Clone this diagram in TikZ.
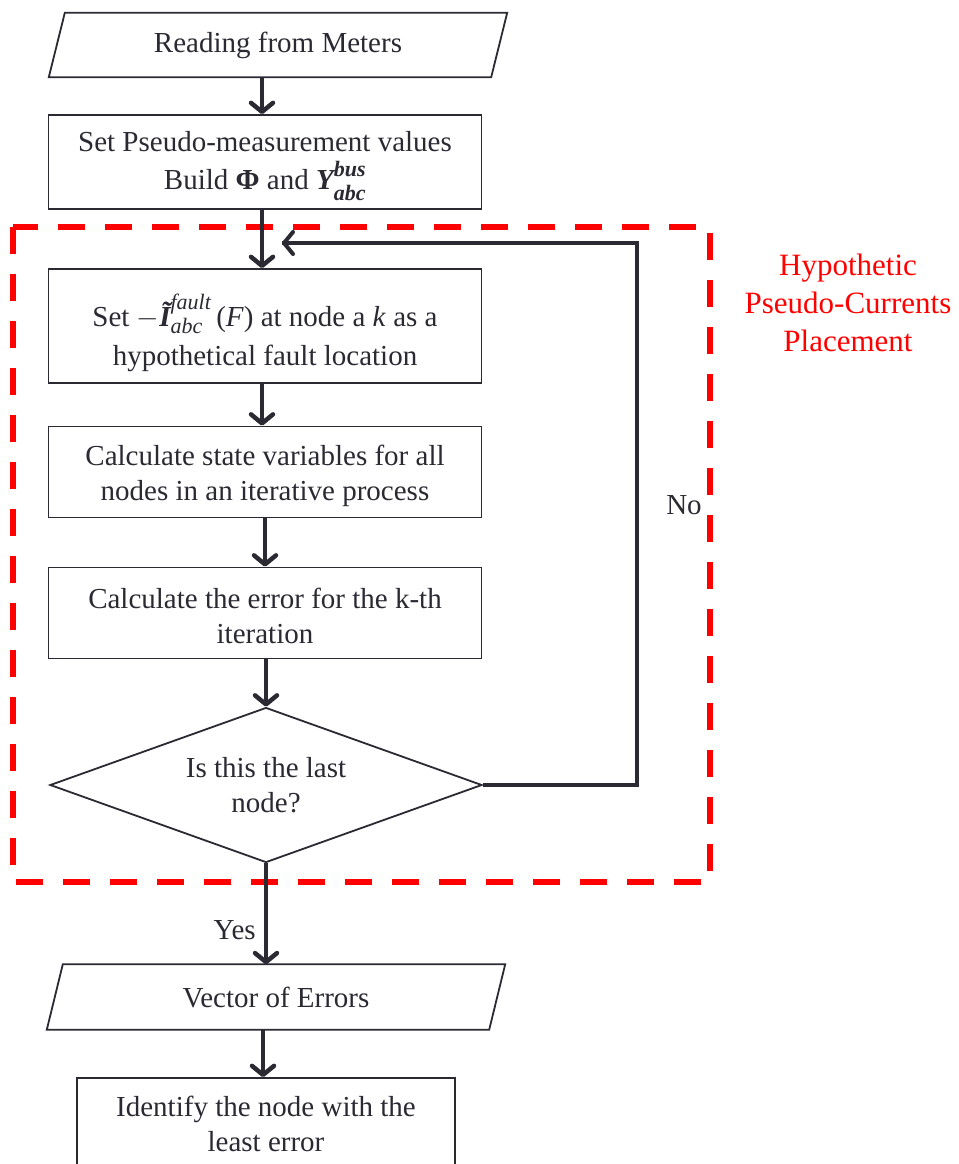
\RequirePackage{fix-cm}
\documentclass[tikz,border=0pt]{standalone}
\usepackage{amsmath}
\usepackage{fontspec}
\setmainfont{Liberation Serif}
\usetikzlibrary{arrows.meta,shapes.geometric,calc}
\definecolor{ink}{HTML}{2B2A33}
\definecolor{hred}{HTML}{FF0000}
\newcommand{\bi}[1]{\text{\bfseries\itshape #1}}
\newcommand{\scr}[1]{\text{\fontsize{22}{22}\selectfont #1}}
\tikzset{
  txt/.style={font=\fontsize{29}{35}\selectfont, text=ink, align=center},
  boxnode/.style={draw=ink, line width=1.8pt, inner sep=0pt},
  para/.style={txt, inner sep=0pt},
  arr/.style={draw=ink, line width=4.5pt, -{Straight Barb[length=9pt,width=22pt,line cap=round,line join=round]}},
  loopline/.style={draw=ink, line width=4pt, line join=miter},
  redbox/.style={draw=hred, line width=6pt, dash pattern=on 27pt off 20pt},
  redtxt/.style={font=\fontsize{31}{38}\selectfont, text=hred, align=center},
}
\begin{document}
\begin{tikzpicture}[x=1pt,y=-1pt]
\clip (0,0) rectangle (958,1164);
\fill[white] (0,0) rectangle (958,1164);

% red dashed region
\draw[redbox] (13,227) rectangle (710,882);
\node[redtxt] (lbl) at (848,303) {Hypothetic\\Pseudo-Currents\\Placement};

% parallelogram 1
\node[para, minimum width=458pt, minimum height=64pt] (p1) at (278,45) {Reading from Meters};
\draw[ink, line width=1.8pt, line join=miter]
  (p1.south west) -- ($(p1.north west)+(16,0)$) -- (p1.north east) -- ($(p1.south east)+(-16,0)$) -- cycle;

% box 2
\node[boxnode, minimum width=433pt, minimum height=94pt] (b2) at (265,162) {};
\node[txt] (b2t) at (265,166)
  {Set Pseudo-measurement values\\[3pt] Build \textbf{Φ} and $\bi{Y}^{\scr{\bfseries\itshape bus}\rule[-3pt]{0pt}{3pt}}_{\scr{\bfseries\itshape abc}\rule{0pt}{17pt}}$};

% box 3
\node[boxnode, minimum width=433pt, minimum height=114pt] (b3) at (265,326) {};
\node[txt] (b3t) at (265,333)
  {Set $-\bi{Ĩ}^{\scr{\itshape fault}}_{\scr{\itshape abc}}\,$(\textit{F}) at node a \textit{k} as a\\[4pt] hypothetical fault location};

% box 4
\node[boxnode, minimum width=433pt, minimum height=91pt] (b4) at (265,472) {};
\node[txt] (b4t) at (265,476) {Calculate state variables for all\\ nodes in an iterative process};

% box 5
\node[boxnode, minimum width=433pt, minimum height=91pt] (b5) at (265,613) {};
\node[txt] (b5t) at (265,616) {Calculate the error for the k-th\\ iteration};

% decision
\node[txt, diamond, draw=ink, line width=1.8pt, inner sep=0pt, aspect=2.8,
      minimum width=432pt, minimum height=155pt] (dia) at (266,785)
  {Is this the last\\ node?};

% parallelogram 2
\node[para, minimum width=458pt, minimum height=65pt] (p2) at (276,997) {Vector of Errors};
\draw[ink, line width=1.8pt, line join=miter]
  (p2.south west) -- ($(p2.north west)+(16,0)$) -- (p2.north east) -- ($(p2.south east)+(-16,0)$) -- cycle;

% box 6 (cut by the page edge)
\node[boxnode, minimum width=378pt, minimum height=96pt] (b6) at (266,1126) {};
\node[txt] (b6t) at (266,1124) {Identify the node with the\\ least error};

% connectors
\draw[arr] (p1.south -| 262,0) -- (b2.north -| 262,0);
\draw[arr] (b2.south -| 262,0) -- (b3.north -| 262,0);
\draw[arr] (b3.south -| 262,0) -- (b4.north -| 262,0);
\draw[arr] (b4.south -| 265,0) -- (b5.north -| 265,0);
\draw[arr] (b5.south -| dia.north) -- (dia.north);
\draw[arr] (dia.south) -- node[txt, left, pos=0.66, inner sep=8pt] (yes) {Yes} (p2.north -| dia.south);
\draw[arr] (p2.south -| 263,0) -- (b6.north -| 263,0);

\coordinate (c1) at (637,785);
\coordinate (c2) at (637,243);
\coordinate (loopend) at (282,243);
\draw[loopline] (dia.east) -- (c1) -- (c2) -- (loopend);
\draw[arr, line width=4pt] (c2) -- (loopend);
\node[txt] (no) at (684,505) {No};
\end{tikzpicture}
\end{document}
